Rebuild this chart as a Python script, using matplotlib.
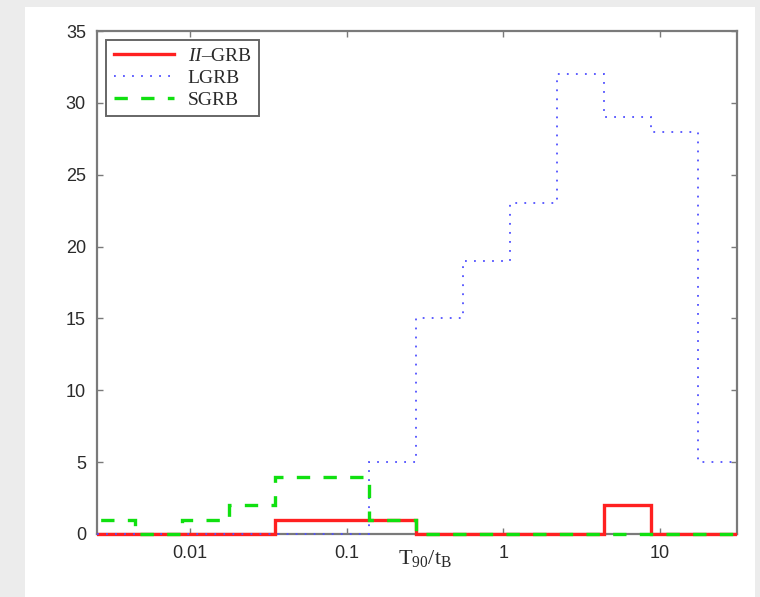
import numpy as np
import matplotlib
matplotlib.use("Agg")
import matplotlib.pyplot as plt
from matplotlib.patches import Rectangle
from matplotlib.transforms import Bbox, TransformedBbox

# bin edges of the T90/tB histogram (log spaced)
bin_edges = [0.00224, 0.00446, 0.00888, 0.0177, 0.0352, 0.0703, 0.140,
             0.279, 0.556, 1.107, 2.20, 4.39, 8.75, 17.46, 34.8]

# counts per bin
ii_grb = [0, 0, 0, 0, 1, 1, 1, 0, 0, 0, 0, 2, 0, 0]
lgrb = [0, 0, 0, 0, 0, 0, 5, 15, 19, 23, 32, 29, 28, 5]
sgrb = [1, 0, 1, 2, 4, 4, 1, 0, 0, 0, 0, 0, 0, 0]

x_ticks = [0.01, 0.1, 1, 10]
x_tick_labels = ["0.01", "0.1", "1", "10"]
y_ticks = [0, 5, 10, 15, 20, 25, 30, 35]

plt.rcParams['font.family'] = ['Liberation Sans', 'DejaVu Sans']
plt.rcParams['mathtext.fontset'] = 'custom'
plt.rcParams['mathtext.rm'] = 'Liberation Serif'
plt.rcParams['mathtext.it'] = 'Liberation Serif:italic'

fig = plt.figure(figsize=(7.6, 5.97), dpi=100, facecolor='#ececec')
fig.patches.append(Rectangle((25 / 760, 0), 730 / 760, 590 / 597,
                             transform=fig.transFigure, facecolor='white',
                             edgecolor='none', zorder=-10))
ax = fig.add_axes([97 / 760, 1 - 534 / 597, 640 / 760, 503 / 597])
ax.set_zorder(5)

s1 = ax.stairs(ii_grb, bin_edges, color='#ff2020', lw=2.4, label=r'$\mathit{II}$–GRB')
s2 = ax.stairs(lgrb, bin_edges, color='#5050ff', lw=1.3, ls=(0, (1, 4)), label='LGRB')
s3 = ax.stairs(sgrb, bin_edges, color='#10e010', lw=2.4, ls=(0, (4, 4)), label='SGRB')

# let the lines on y=0 show fully on top of the bottom spine
clip = TransformedBbox(Bbox([[0, -0.02], [1, 1.02]]), ax.transAxes)
for s in (s1, s2, s3):
    s.set_clip_box(clip)
    s.set_zorder(3)

ax.set_xscale('log')
ax.set_xlim(0.00256, 30.9)
ax.set_ylim(0, 35)
ax.set_xticks(x_ticks)
ax.set_xticklabels(x_tick_labels)
ax.xaxis.set_minor_locator(matplotlib.ticker.NullLocator())
ax.set_yticks(y_ticks)

for s in ax.spines.values():
    s.set_color('#7a7a7a')
    s.set_linewidth(1.6)
ax.tick_params(direction='in', length=4, width=1, color='#7a7a7a',
               top=True, right=True, labelsize=13, labelcolor='#2a2a2a', pad=8)

ax.set_xlabel(r'$\mathrm{T}_{90}/\mathrm{t}_\mathrm{B}$', fontsize=16, color='#2a2a2a',
              va='top')
ax.xaxis.set_label_coords(0.512, -0.028)

leg = ax.legend(loc='upper left', bbox_to_anchor=(0.014, 0.983), borderaxespad=0,
                prop={'family': 'Liberation Serif', 'size': 14},
                handlelength=3.1, handletextpad=0.7, labelspacing=0.22,
                borderpad=0.4, fancybox=False, framealpha=1)
leg.set_zorder(10)
leg.get_frame().set_edgecolor('#666666')
leg.get_frame().set_linewidth(1.4)
for t in leg.get_texts():
    t.set_color('#2a2a2a')

fig.savefig('out.png', dpi=100, facecolor=fig.get_facecolor())
